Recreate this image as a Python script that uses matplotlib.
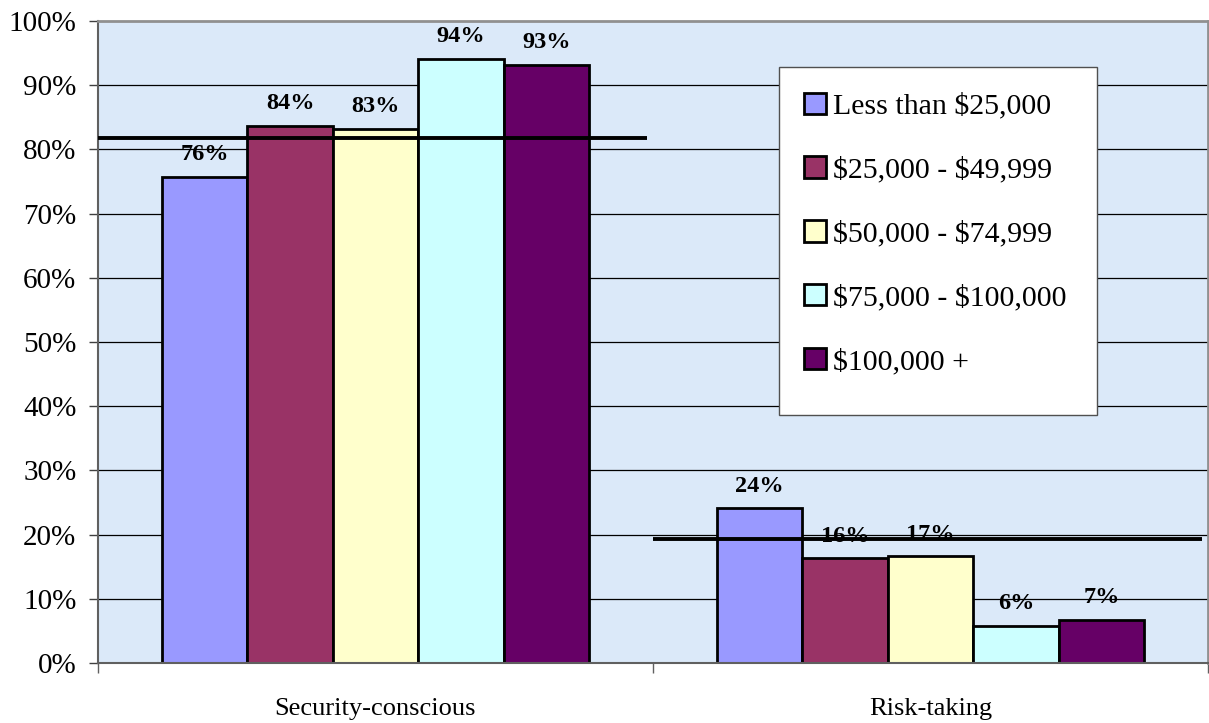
import matplotlib
matplotlib.use("Agg")
import matplotlib.pyplot as plt
import numpy as np
from matplotlib.patches import Rectangle
from matplotlib.ticker import FuncFormatter

plt.rcParams["font.family"] = ["Liberation Serif", "DejaVu Serif"]

# 数据
categories = ["Security-conscious", "Risk-taking"]
series_names = [
    r"Less than \$25,000",
    r"\$25,000 - \$49,999",
    r"\$50,000 - \$74,999",
    r"\$75,000 - \$100,000",
    r"\$100,000 +",
]
values = [
    [75.7, 24.1],   # Less than $25,000
    [83.7, 16.3],   # $25,000 - $49,999
    [83.2, 16.6],   # $50,000 - $74,999
    [94.1, 5.8],    # $75,000 - $100,000
    [93.2, 6.7],    # $100,000 +
]
labels = [
    ["76%", "24%"],
    ["84%", "16%"],
    ["83%", "17%"],
    ["94%", "6%"],
    ["93%", "7%"],
]
averages = [81.7, 19.3]
colors = ["#9999FF", "#993366", "#FFFFCC", "#CCFFFF", "#660066"]

fig = plt.figure(figsize=(12.09, 7.23), dpi=100)
ax = fig.add_axes([98 / 1209, 1 - 663 / 723, 1110 / 1209, 642 / 723])
ax.set_facecolor("#dbe9f9")

x = np.arange(len(categories))
width = 0.154

# 网格线
for y in range(10, 100, 10):
    ax.axhline(y, color="black", linewidth=0.9, zorder=1)

for i, (name, vals) in enumerate(zip(series_names, values)):
    pos = x + (i - 2) * width
    ax.bar(pos, vals, width, color=colors[i], edgecolor="black",
           linewidth=2, label=name, zorder=2)
    for px, v, txt in zip(pos, vals, labels[i]):
        ax.annotate(txt, xy=(px, v), xytext=(0, 12), textcoords="offset points",
                    ha="center", va="baseline", fontsize=17.5, fontweight="bold",
                    zorder=4)

# 平均线
for xi, avg in zip(x, averages):
    ax.hlines(avg, xi - 0.5, xi + 0.49, color="black", linewidth=2.8, zorder=3)

ax.set_xlim(-0.5, 1.5)
ax.set_ylim(0, 100)
ax.set_yticks(range(0, 101, 10))
ax.yaxis.set_major_formatter(FuncFormatter(lambda v, p: f"{v:.0f}%"))
ax.tick_params(axis="y", length=6.5, width=1, color="#404040", labelsize=21, pad=9)

ax.set_xticks(x)
ax.set_xticklabels(categories, fontsize=19)
ax.set_xticks([-0.5, 0.5, 1.5], minor=True)
ax.tick_params(axis="x", which="major", length=0, pad=25)
ax.tick_params(axis="x", which="minor", length=7, width=1, color="#606060")

for side in ["left", "bottom"]:
    ax.spines[side].set_color("#606060")
    ax.spines[side].set_linewidth(1.5)
for side in ["top", "right"]:
    ax.spines[side].set_color("#909090")
    ax.spines[side].set_linewidth(2)

# 图例框
box = Rectangle((0.6135, 0.3863), 0.2865, 0.542, transform=ax.transAxes,
                facecolor="white", edgecolor="#505050", linewidth=1, zorder=5)
ax.add_patch(box)

leg = ax.legend(loc="upper left", bbox_to_anchor=(0.6135, 0.928), fontsize=21.5,
                frameon=False, labelspacing=1.23, handlelength=0.72,
                handleheight=0.72, handletextpad=0.25, borderpad=0.85,
                borderaxespad=0)
leg.set_zorder(6)

plt.savefig("out.png", dpi=100)
